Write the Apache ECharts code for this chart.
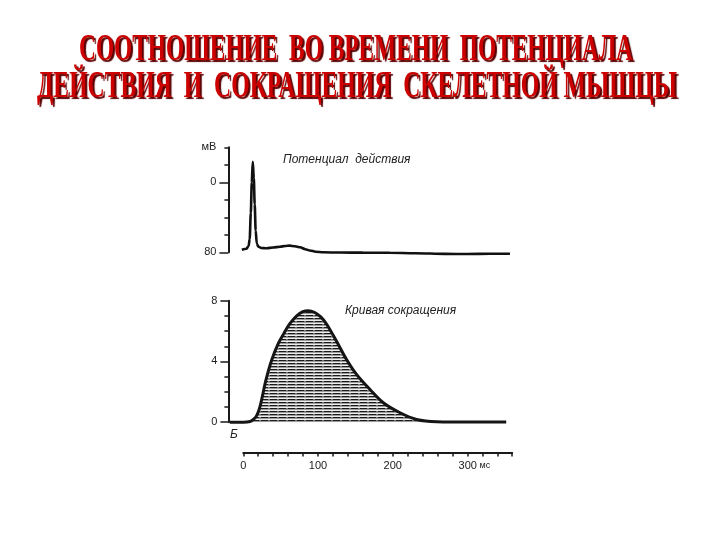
<!DOCTYPE html>
<html><head><meta charset="utf-8">
<script src="https://cdn.jsdelivr.net/npm/echarts@6/dist/echarts.min.js"></script>
<style>html,body{margin:0;padding:0;background:#fff}#c{width:720px;height:540px}</style>
</head><body><div id="c"></div>
<script>
// ---- data ----
const titleLines = ['СООТНОШЕНИЕ  ВО ВРЕМЕНИ  ПОТЕНЦИАЛА', 'ДЕЙСТВИЯ  И  СОКРАЩЕНИЯ  СКЕЛЕТНОЙ МЫШЦЫ'];
const apLabel = 'Потенциал  действия';
const twitchLabel = 'Кривая сокращения';
const panelLetter = 'Б';
// action potential (ms, mV)
const apTime  = [-2, 4, 7, 8.5, 10, 11.3, 12.6, 14, 15.2, 16.5, 18, 20, 24, 31, 40, 49, 56, 62, 69, 76, 83, 89, 97, 107, 130, 160, 196, 230, 270, 300, 330, 357];
const apValue = [-77, -76, -73, -65, -35, 0, 23.5, 5, -25, -55, -70, -73.5, -75, -75.4, -74.5, -73.6, -72.8, -72.4, -73, -74.3, -76.5, -78, -79.3, -80, -80.3, -80.4, -80.5, -81, -81.8, -82, -81.7, -81.7];
// twitch (ms, force)
const twitchTime  = [-18, 0, 9, 14, 18, 22.4, 30.4, 38, 47, 54.5, 62.5, 71.5, 79, 87, 95, 104, 111.6, 125, 138.4, 151.8, 169.6, 187.4, 209.8, 232, 259, 300, 352];
const twitchValue = [0, 0, 0.05, 0.2, 0.45, 1.05, 2.8, 4.1, 5.2, 5.86, 6.5, 7.0, 7.26, 7.34, 7.24, 6.92, 6.45, 5.31, 4.11, 3.13, 2.15, 1.28, 0.62, 0.18, 0.03, 0.01, 0.02];
// axis ticks / labels
const timeLabelValues = [0, 100, 200, 300];
const timeUnit = 'мс';
const apLabelValues = [-80, 0, 40];
const apLabelTexts = ['80', '0', 'мВ'];
const twitchLabelValues = [0, 4, 8];
const twitchLabelTexts = ['0', '4', '8'];

const zip = (a, b) => a.map((v, i) => [v, b[i]]);

// hatch pattern for the twitch area
const pat = document.createElement('canvas');
pat.width = 9; pat.height = 3;
const g = pat.getContext('2d');
g.fillStyle = '#eeeeee'; g.fillRect(0, 0, 9, 3);
g.fillStyle = '#1a1a1a'; g.fillRect(0, 0, 7, 1);
g.fillStyle = '#777777'; g.fillRect(7, 0, 2, 1);
g.fillStyle = '#9c9c9c'; g.fillRect(0, 1, 9, 1);

// title width fitting
const titleFont = 'bold 37px "Liberation Sans Narrow"';
const titleTargets = [{cx: 356, cy: 50, w: 554}, {cx: 357, cy: 87, w: 640}];
const mc = document.createElement('canvas').getContext('2d');
mc.font = titleFont;

const axisColor = '#1a1a1a';
const lblStyle = {color: '#222', fontSize: 11, fontFamily: 'Liberation Sans'};

const chart = echarts.init(document.getElementById('c'), null, {renderer: 'canvas'});
const option = {
  backgroundColor: '#fff',
  animation: false,
  grid: [
    {left: 228.4, right: 207.8, top: 147.3, height: 105},
    {left: 228.4, right: 207.8, top: 300.7, height: 121.5},
    {left: 243.3, right: 207.8, top: 440, height: 12.5}
  ],
  xAxis: [
    {gridIndex: 0, type: 'value', min: -20, max: 360, show: false},
    {gridIndex: 1, type: 'value', min: -20, max: 360, show: false},
    {gridIndex: 2, type: 'value', min: 0, max: 360, interval: 20, position: 'bottom',
      axisLine: {onZero: false, lineStyle: {color: axisColor, width: 2}},
      axisTick: {length: 4, lineStyle: {color: axisColor, width: 1.5}},
      splitLine: {show: false},
      axisLabel: Object.assign({margin: 8,
        formatter: v => timeLabelValues.indexOf(v) < 0 ? '' : (v === 300 ? '{p|}' + v + '{u| ' + timeUnit + '}' : String(v)),
        rich: {p: {width: 14}, u: {fontSize: 9, color: '#222', fontFamily: 'Liberation Sans'}}}, lblStyle)}
  ],
  yAxis: [
    {gridIndex: 0, type: 'value', min: -80, max: 40, interval: 20, position: 'left',
      axisLine: {show: true, onZero: false, lineStyle: {color: axisColor, width: 2}},
      axisTick: {show: true, length: 4, lineStyle: {color: axisColor, width: 1.5}},
      axisLabel: {show: false}, splitLine: {show: false}},
    {gridIndex: 0, type: 'value', min: -80, max: 40, interval: 20, position: 'left',
      axisLine: {show: false, onZero: false},
      axisTick: {show: true, length: 9, customValues: [-80, 0], lineStyle: {color: axisColor, width: 1.5}},
      axisLabel: Object.assign({show: true, margin: 12, customValues: apLabelValues,
        formatter: v => apLabelTexts[apLabelValues.indexOf(v)] || ''}, lblStyle),
      splitLine: {show: false}},
    {gridIndex: 1, type: 'value', min: 0, max: 8, interval: 1, position: 'left',
      axisLine: {show: true, onZero: false, lineStyle: {color: axisColor, width: 2}},
      axisTick: {show: true, length: 4, lineStyle: {color: axisColor, width: 1.5}},
      axisLabel: {show: false}, splitLine: {show: false}},
    {gridIndex: 1, type: 'value', min: 0, max: 8, interval: 1, position: 'left',
      axisLine: {show: false, onZero: false},
      axisTick: {show: true, length: 8, customValues: twitchLabelValues, lineStyle: {color: axisColor, width: 1.5}},
      axisLabel: Object.assign({show: true, margin: 11, customValues: twitchLabelValues,
        formatter: v => twitchLabelTexts[twitchLabelValues.indexOf(v)] || ''}, lblStyle),
      splitLine: {show: false}},
    {gridIndex: 2, type: 'value', min: 0, max: 1, show: false}
  ],
  series: [
    {type: 'line', xAxisIndex: 0, yAxisIndex: 0, data: zip(apTime, apValue), showSymbol: false,
      smooth: 0.3, smoothMonotone: 'x', clip: false,
      lineStyle: {color: '#111', width: 2.6}},
    {type: 'line', xAxisIndex: 1, yAxisIndex: 2, data: zip(twitchTime, twitchValue), showSymbol: false,
      smooth: 0.35, clip: false,
      lineStyle: {color: '#151515', width: 3},
      areaStyle: {origin: 'start', color: {image: pat, repeat: 'repeat'}, opacity: 1}}
  ],
  graphic: titleLines.map((t, i) => {
    const w = mc.measureText(t).width;
    const sx = titleTargets[i].w / w;
    return {type: 'text', x: titleTargets[i].cx, y: titleTargets[i].cy, scaleX: sx, z: 10,
      style: {text: t, font: titleFont, fill: '#cc0000', align: 'center', verticalAlign: 'middle',
        textShadowColor: '#5a0000', textShadowOffsetX: 2, textShadowOffsetY: 2, textShadowBlur: 1}};
  }).concat([
    {type: 'text', x: 283, y: 160, style: {text: apLabel, font: 'italic 12px "Liberation Sans"', fill: '#222', verticalAlign: 'middle'}},
    {type: 'text', x: 345, y: 311, style: {text: twitchLabel, font: 'italic 12px "Liberation Sans"', fill: '#222', verticalAlign: 'middle'}},
    {type: 'text', x: 230, y: 435, style: {text: panelLetter, font: 'italic 12px "Liberation Sans"', fill: '#222', verticalAlign: 'middle'}}
  ])
};
chart.setOption(option);
</script></body></html>
